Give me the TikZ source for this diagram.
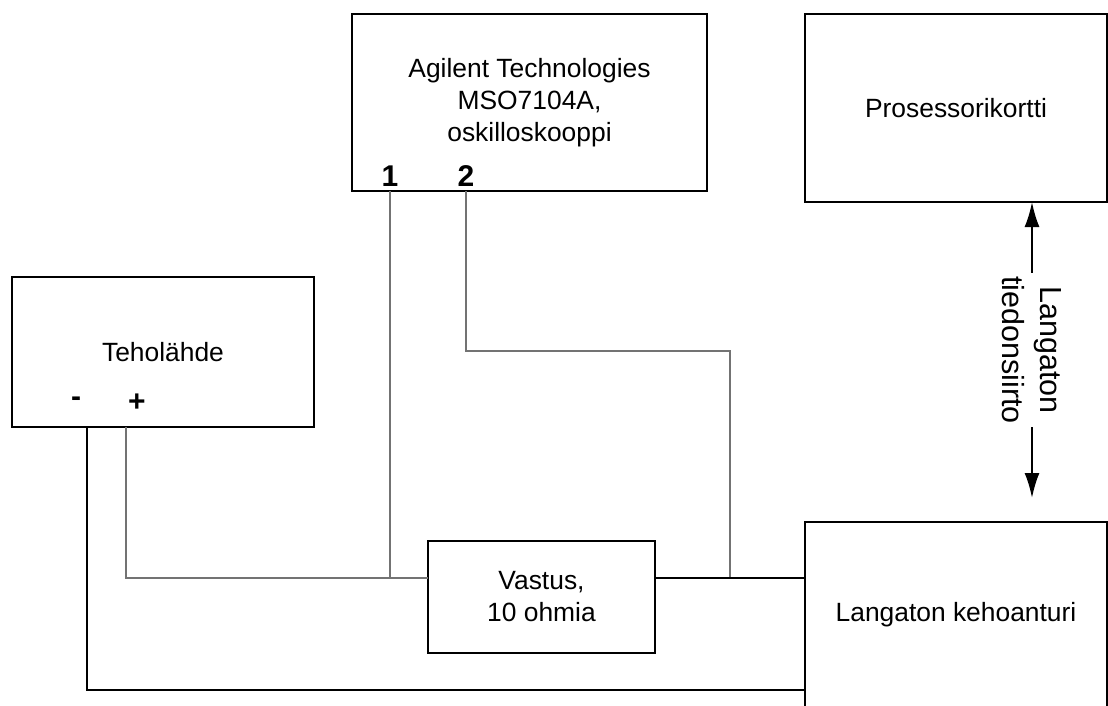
\documentclass[tikz,border=0pt]{standalone}
\usepackage{fontspec}
\setmainfont{Liberation Sans}
\usepackage{tikz}
\usetikzlibrary{
    arrows.meta,
    calc,
    positioning
}
\definecolor{wiregray}{gray}{0.45}
\tikzset{blk/.style={rectangle, draw=black, line width=2pt, inner sep=0pt, outer sep=0pt, align=center, font=\fontsize{26.4}{32}\selectfont}}
\tikzset{pinlbl/.style={inner sep=0pt, font=\fontsize{30}{36}\selectfont\bfseries}}
\tikzset{wire/.style={draw=black, line width=2pt}}
\tikzset{thinwire/.style={draw=wiregray, line width=1.4pt}}
\tikzset{biarrow/.style={draw=black, line width=2pt, {Latex[length=25pt,width=15pt]}-{Latex[length=25pt,width=15pt]}}}

\begin{document}
\begin{tikzpicture}[x=1pt, y=-1pt]
                        \useasboundingbox (0, 0) rectangle (1108, 705);

                        \node[blk, minimum width=355, minimum height=177] (osc) at (529.5, 102.5) {Agilent Technologies\\MSO7104A,\\oskilloskooppi};
                        \node[blk, minimum width=302, minimum height=188] (proc) at (956, 108) {Prosessorikortti};
                        \node[blk, minimum width=302, minimum height=150] (psu) at (163, 352) {Teholähde};
                        \node[blk, minimum width=227, minimum height=112] (res) at (541.5, 597) {Vastus,\\10 ohmia};
                        \node[blk, minimum width=302, minimum height=186] (sensor) at (956, 615) {Langaton kehoanturi};

                        \node[pinlbl] (pin1) at (390, 176) {1};
                        \node[pinlbl] (pin2) at (466, 176) {2};
                        \node[pinlbl] (neg) at (76, 402) {-};
                        \node[pinlbl] (pos) at (137, 403) {+};

                        \coordinate (negout) at (87, 427);
                        \coordinate (posout) at (126, 427);
                        \coordinate (resin) at ($(res.north west)!0.33!(res.south west)$);
                        \coordinate (resout) at ($(res.north east)!0.33!(res.south east)$);
                        \coordinate (tap) at (730, 578);
                        \coordinate (negin) at (805, 690);
                        \coordinate (rxtip) at (1032, 498);

                        \draw[thinwire]
                        (posout) |- (resin)
                        (osc.south -| pin1) -- (pin1 |- resin)
                        (osc.south -| pin2) -- ++(0, 160) -| (tap);

                        \draw[wire]
                        (resout) -- (resout -| sensor.west)
                        (negout) |- (negin);

                        \draw[biarrow] (proc.south -| rxtip) -- (rxtip)
                        node[midway, fill=white, rotate=-90, align=center, inner sep=3pt, font=\fontsize{30.5}{38}\selectfont] {Langaton\\tiedonsiirto};
                    \end{tikzpicture}
\end{document}
